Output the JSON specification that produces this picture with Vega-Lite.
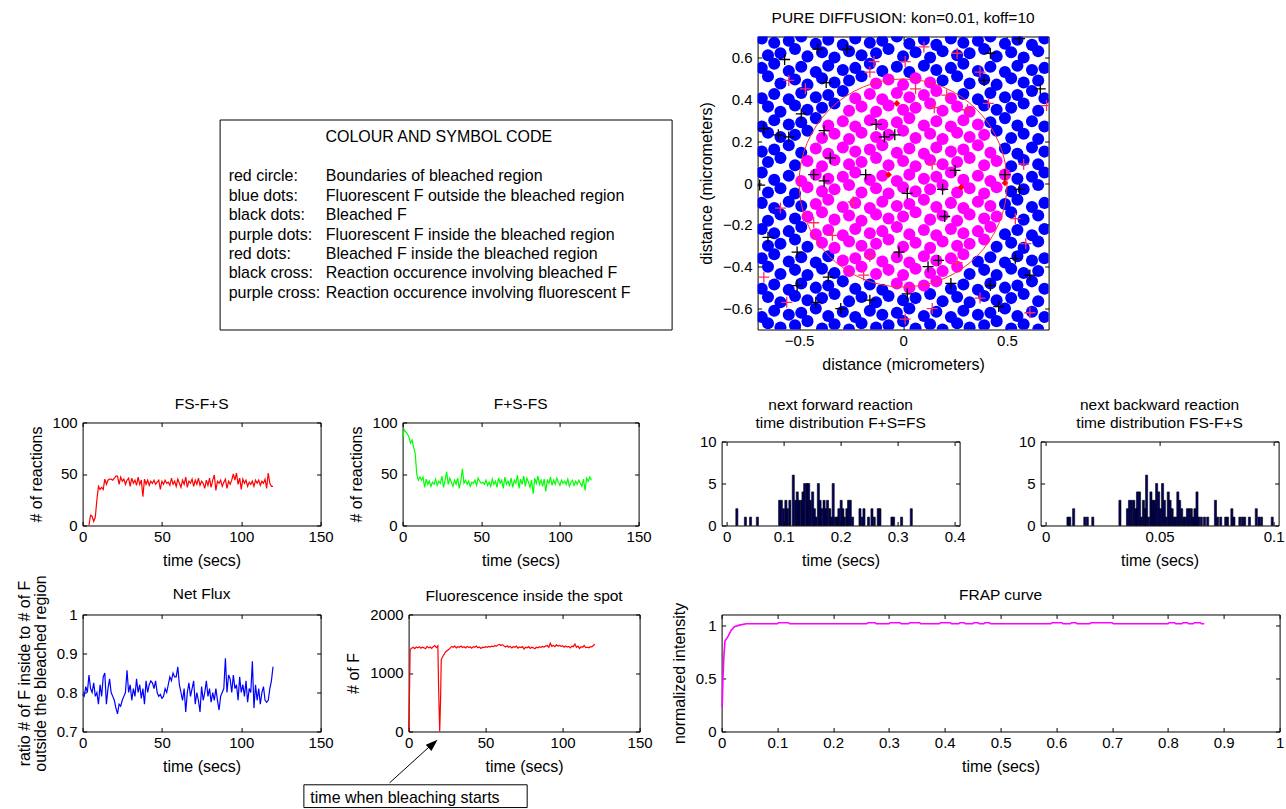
{
"$schema": "https://vega.github.io/schema/vega-lite/v6.json",
"background": "white",
"padding": {"left": 15.6, "top": 9.5, "right": 0, "bottom": 0},
"config": {
  "font": "Liberation Sans",
  "view": {"stroke": "black", "strokeWidth": 1},
  "axis": {"domain": false, "grid": false, "tickColor": "black", "tickSize": -4, "tickWidth": 1, "labelColor": "black", "labelFont": "Liberation Sans", "labelFontSize": 15, "labelFlush": false, "labelOverlap": false, "titleFont": "Liberation Sans", "titleFontSize": 16, "titleFontWeight": "normal", "titleColor": "black", "titlePadding": 8, "format": "~f"},
  "axisX": {"labelPadding": 8.2},
  "axisY": {"labelPadding": 9.5, "titleLineHeight": 16},
  "title": {"font": "Liberation Sans", "fontSize": 15.5, "fontWeight": "normal", "color": "black", "frame": "group", "anchor": "middle", "baseline": "bottom", "offset": 10, "lineHeight": 18}
},
"datasets": {
  "outside": [
    {"x":-0.68,"y":0.69},{"x":-0.62,"y":0.67},{"x":-0.55,"y":0.68},{"x":-0.49,"y":0.7},{"x":-0.42,"y":0.665},{"x":-0.36,"y":0.685},{"x":-0.29,"y":0.66},{"x":-0.23,"y":0.69},{"x":-0.16,"y":0.67},{"x":-0.1,"y":0.68},{"x":-0.03,"y":0.7},{"x":0.03,"y":0.665},{"x":0.1,"y":0.685},{"x":0.16,"y":0.66},{"x":0.23,"y":0.69},{"x":0.29,"y":0.67},{"x":0.36,"y":0.68},{"x":0.42,"y":0.7},{"x":0.49,"y":0.665},{"x":0.55,"y":0.685},{"x":0.62,"y":0.66},{"x":0.68,"y":0.69},
    {"x":-0.65,"y":0.61},{"x":-0.59,"y":0.62},{"x":-0.52,"y":0.64},{"x":-0.46,"y":0.605},{"x":-0.39,"y":0.625},{"x":-0.33,"y":0.6},{"x":-0.26,"y":0.63},{"x":-0.2,"y":0.61},{"x":-0.13,"y":0.62},{"x":-0.07,"y":0.64},{"x":0,"y":0.605},{"x":0.06,"y":0.625},{"x":0.13,"y":0.6},{"x":0.19,"y":0.63},{"x":0.26,"y":0.61},{"x":0.32,"y":0.62},{"x":0.39,"y":0.64},{"x":0.45,"y":0.605},{"x":0.52,"y":0.625},{"x":0.58,"y":0.6},{"x":0.65,"y":0.63},
    {"x":-0.68,"y":0.55},{"x":-0.62,"y":0.57},{"x":-0.55,"y":0.535},{"x":-0.49,"y":0.555},{"x":-0.42,"y":0.53},{"x":-0.36,"y":0.56},{"x":-0.29,"y":0.54},{"x":-0.23,"y":0.55},{"x":-0.16,"y":0.57},{"x":-0.1,"y":0.535},{"x":-0.03,"y":0.555},{"x":0.03,"y":0.53},{"x":0.1,"y":0.56},{"x":0.16,"y":0.54},{"x":0.23,"y":0.55},{"x":0.29,"y":0.57},{"x":0.36,"y":0.535},{"x":0.42,"y":0.555},{"x":0.49,"y":0.53},{"x":0.55,"y":0.56},{"x":0.62,"y":0.54},{"x":0.68,"y":0.55},
    {"x":-0.65,"y":0.51},{"x":-0.59,"y":0.475},{"x":-0.52,"y":0.495},{"x":-0.46,"y":0.47},{"x":-0.39,"y":0.5},{"x":-0.33,"y":0.48},{"x":-0.26,"y":0.49},{"x":-0.2,"y":0.51},{"x":0.19,"y":0.49},{"x":0.26,"y":0.51},{"x":0.32,"y":0.475},{"x":0.39,"y":0.495},{"x":0.45,"y":0.47},{"x":0.52,"y":0.5},{"x":0.58,"y":0.48},{"x":0.65,"y":0.49},
    {"x":-0.68,"y":0.405},{"x":-0.62,"y":0.425},{"x":-0.55,"y":0.4},{"x":-0.49,"y":0.43},{"x":-0.42,"y":0.41},{"x":-0.36,"y":0.42},{"x":-0.29,"y":0.44},{"x":0.29,"y":0.425},{"x":0.36,"y":0.4},{"x":0.42,"y":0.43},{"x":0.49,"y":0.41},{"x":0.55,"y":0.42},{"x":0.62,"y":0.44},{"x":0.68,"y":0.405},
    {"x":-0.65,"y":0.365},{"x":-0.59,"y":0.34},{"x":-0.52,"y":0.37},{"x":-0.46,"y":0.35},{"x":-0.39,"y":0.36},{"x":-0.33,"y":0.38},{"x":0.39,"y":0.37},{"x":0.45,"y":0.35},{"x":0.52,"y":0.36},{"x":0.58,"y":0.38},{"x":0.65,"y":0.345},
    {"x":-0.68,"y":0.27},{"x":-0.62,"y":0.3},{"x":-0.55,"y":0.28},{"x":-0.49,"y":0.29},{"x":-0.42,"y":0.31},{"x":0.42,"y":0.29},{"x":0.49,"y":0.31},{"x":0.55,"y":0.275},{"x":0.62,"y":0.295},{"x":0.68,"y":0.27},
    {"x":-0.65,"y":0.24},{"x":-0.59,"y":0.22},{"x":-0.52,"y":0.23},{"x":-0.46,"y":0.25},{"x":0.45,"y":0.25},{"x":0.52,"y":0.215},{"x":0.58,"y":0.235},{"x":0.65,"y":0.21},
    {"x":-0.68,"y":0.15},{"x":-0.62,"y":0.16},{"x":-0.55,"y":0.18},{"x":-0.49,"y":0.145},{"x":0.49,"y":0.165},{"x":0.55,"y":0.14},{"x":0.62,"y":0.17},{"x":0.68,"y":0.15},
    {"x":-0.65,"y":0.1},{"x":-0.59,"y":0.12},{"x":-0.52,"y":0.085},{"x":0.52,"y":0.08},{"x":0.58,"y":0.11},{"x":0.65,"y":0.09},
    {"x":-0.68,"y":0.05},{"x":-0.62,"y":0.015},{"x":-0.55,"y":0.035},{"x":0.55,"y":0.02},{"x":0.62,"y":0.03},{"x":0.68,"y":0.05},
    {"x":-0.65,"y":-0.045},{"x":-0.59,"y":-0.025},{"x":-0.52,"y":-0.05},{"x":0.52,"y":-0.04},{"x":0.58,"y":-0.03},{"x":0.65,"y":-0.01},
    {"x":-0.68,"y":-0.095},{"x":-0.62,"y":-0.12},{"x":-0.55,"y":-0.09},{"x":-0.49,"y":-0.11},{"x":0.49,"y":-0.1},{"x":0.55,"y":-0.08},{"x":0.62,"y":-0.115},{"x":0.68,"y":-0.095},
    {"x":-0.65,"y":-0.18},{"x":-0.59,"y":-0.15},{"x":-0.52,"y":-0.17},{"x":0.52,"y":-0.14},{"x":0.58,"y":-0.175},{"x":0.65,"y":-0.155},
    {"x":-0.68,"y":-0.22},{"x":-0.62,"y":-0.24},{"x":-0.55,"y":-0.23},{"x":-0.49,"y":-0.21},{"x":0.49,"y":-0.245},{"x":0.55,"y":-0.225},{"x":0.62,"y":-0.25},{"x":0.68,"y":-0.22},
    {"x":-0.65,"y":-0.3},{"x":-0.59,"y":-0.29},{"x":-0.52,"y":-0.27},{"x":-0.46,"y":-0.305},{"x":0.45,"y":-0.305},{"x":0.52,"y":-0.285},{"x":0.58,"y":-0.31},{"x":0.65,"y":-0.28},
    {"x":-0.68,"y":-0.36},{"x":-0.62,"y":-0.34},{"x":-0.55,"y":-0.375},{"x":-0.49,"y":-0.355},{"x":-0.42,"y":-0.38},{"x":-0.36,"y":-0.35},{"x":0.36,"y":-0.375},{"x":0.42,"y":-0.355},{"x":0.49,"y":-0.38},{"x":0.55,"y":-0.35},{"x":0.62,"y":-0.37},{"x":0.68,"y":-0.36},
    {"x":-0.65,"y":-0.4},{"x":-0.59,"y":-0.435},{"x":-0.52,"y":-0.415},{"x":-0.46,"y":-0.44},{"x":-0.39,"y":-0.41},{"x":-0.33,"y":-0.43},{"x":0.32,"y":-0.435},{"x":0.39,"y":-0.415},{"x":0.45,"y":-0.44},{"x":0.52,"y":-0.41},{"x":0.58,"y":-0.43},{"x":0.65,"y":-0.42},
    {"x":-0.68,"y":-0.505},{"x":-0.62,"y":-0.485},{"x":-0.55,"y":-0.51},{"x":-0.49,"y":-0.48},{"x":-0.42,"y":-0.5},{"x":-0.36,"y":-0.49},{"x":-0.29,"y":-0.47},{"x":-0.23,"y":-0.505},{"x":-0.16,"y":-0.485},{"x":-0.1,"y":-0.51},{"x":0.23,"y":-0.505},{"x":0.29,"y":-0.485},{"x":0.36,"y":-0.51},{"x":0.42,"y":-0.48},{"x":0.49,"y":-0.5},{"x":0.55,"y":-0.49},{"x":0.62,"y":-0.47},{"x":0.68,"y":-0.505},
    {"x":-0.65,"y":-0.545},{"x":-0.59,"y":-0.57},{"x":-0.52,"y":-0.54},{"x":-0.46,"y":-0.56},{"x":-0.39,"y":-0.55},{"x":-0.33,"y":-0.53},{"x":-0.26,"y":-0.565},{"x":-0.2,"y":-0.545},{"x":-0.13,"y":-0.57},{"x":-0.07,"y":-0.54},{"x":0,"y":-0.56},{"x":0.06,"y":-0.55},{"x":0.13,"y":-0.53},{"x":0.19,"y":-0.565},{"x":0.26,"y":-0.545},{"x":0.32,"y":-0.57},{"x":0.39,"y":-0.54},{"x":0.45,"y":-0.56},{"x":0.52,"y":-0.55},{"x":0.58,"y":-0.53},{"x":0.65,"y":-0.565},
    {"x":-0.68,"y":-0.64},{"x":-0.62,"y":-0.61},{"x":-0.55,"y":-0.63},{"x":-0.49,"y":-0.62},{"x":-0.42,"y":-0.6},{"x":-0.36,"y":-0.635},{"x":-0.29,"y":-0.615},{"x":-0.23,"y":-0.64},{"x":-0.16,"y":-0.61},{"x":-0.1,"y":-0.63},{"x":-0.03,"y":-0.62},{"x":0.03,"y":-0.6},{"x":0.1,"y":-0.635},{"x":0.16,"y":-0.615},{"x":0.23,"y":-0.64},{"x":0.29,"y":-0.61},{"x":0.36,"y":-0.63},{"x":0.42,"y":-0.62},{"x":0.49,"y":-0.6},{"x":0.55,"y":-0.635},{"x":0.62,"y":-0.615},{"x":0.68,"y":-0.64},
    {"x":-0.65,"y":-0.67},{"x":-0.59,"y":-0.69},{"x":-0.52,"y":-0.68},{"x":-0.46,"y":-0.66},{"x":-0.39,"y":-0.695},{"x":-0.33,"y":-0.675},{"x":-0.26,"y":-0.7},{"x":-0.2,"y":-0.67},{"x":-0.13,"y":-0.69},{"x":-0.07,"y":-0.68},{"x":0,"y":-0.66},{"x":0.06,"y":-0.695},{"x":0.13,"y":-0.675},{"x":0.19,"y":-0.7},{"x":0.26,"y":-0.67},{"x":0.32,"y":-0.69},{"x":0.39,"y":-0.68},{"x":0.45,"y":-0.66},{"x":0.52,"y":-0.695},{"x":0.58,"y":-0.675},{"x":0.65,"y":-0.7}
  ],
  "inside": [
    {"x":-0.13,"y":0.475},{"x":-0.07,"y":0.495},{"x":0,"y":0.47},{"x":0.06,"y":0.5},{"x":0.13,"y":0.48},
    {"x":-0.23,"y":0.405},{"x":-0.16,"y":0.425},{"x":-0.1,"y":0.4},{"x":-0.03,"y":0.43},{"x":0.03,"y":0.41},{"x":0.1,"y":0.42},{"x":0.16,"y":0.44},{"x":0.23,"y":0.405},
    {"x":-0.26,"y":0.345},{"x":-0.2,"y":0.365},{"x":-0.13,"y":0.34},{"x":-0.07,"y":0.37},{"x":0,"y":0.35},{"x":0.06,"y":0.36},{"x":0.13,"y":0.38},{"x":0.19,"y":0.345},{"x":0.26,"y":0.365},{"x":0.32,"y":0.34},
    {"x":-0.36,"y":0.275},{"x":-0.29,"y":0.295},{"x":-0.23,"y":0.27},{"x":-0.16,"y":0.3},{"x":-0.1,"y":0.28},{"x":-0.03,"y":0.29},{"x":0.03,"y":0.31},{"x":0.1,"y":0.275},{"x":0.16,"y":0.295},{"x":0.23,"y":0.27},{"x":0.29,"y":0.3},{"x":0.36,"y":0.28},
    {"x":-0.39,"y":0.215},{"x":-0.33,"y":0.235},{"x":-0.26,"y":0.21},{"x":-0.2,"y":0.24},{"x":-0.13,"y":0.22},{"x":-0.07,"y":0.23},{"x":0,"y":0.25},{"x":0.06,"y":0.215},{"x":0.13,"y":0.235},{"x":0.19,"y":0.21},{"x":0.26,"y":0.24},{"x":0.32,"y":0.22},{"x":0.39,"y":0.23},
    {"x":-0.42,"y":0.165},{"x":-0.36,"y":0.14},{"x":-0.29,"y":0.17},{"x":-0.23,"y":0.15},{"x":-0.16,"y":0.16},{"x":-0.1,"y":0.18},{"x":-0.03,"y":0.145},{"x":0.03,"y":0.165},{"x":0.1,"y":0.14},{"x":0.16,"y":0.17},{"x":0.23,"y":0.15},{"x":0.29,"y":0.16},{"x":0.36,"y":0.18},{"x":0.42,"y":0.145},
    {"x":-0.46,"y":0.105},{"x":-0.39,"y":0.08},{"x":-0.33,"y":0.11},{"x":-0.26,"y":0.09},{"x":-0.2,"y":0.1},{"x":-0.13,"y":0.12},{"x":-0.07,"y":0.085},{"x":0,"y":0.105},{"x":0.06,"y":0.08},{"x":0.13,"y":0.11},{"x":0.19,"y":0.09},{"x":0.26,"y":0.1},{"x":0.32,"y":0.12},{"x":0.39,"y":0.085},{"x":0.45,"y":0.105},
    {"x":-0.49,"y":0.01},{"x":-0.42,"y":0.04},{"x":-0.36,"y":0.02},{"x":-0.29,"y":0.03},{"x":-0.23,"y":0.05},{"x":-0.16,"y":0.015},{"x":-0.1,"y":0.035},{"x":-0.03,"y":0.01},{"x":0.03,"y":0.04},{"x":0.1,"y":0.02},{"x":0.16,"y":0.03},{"x":0.23,"y":0.05},{"x":0.29,"y":0.015},{"x":0.36,"y":0.035},{"x":0.42,"y":0.01},{"x":0.49,"y":0.04},
    {"x":-0.46,"y":-0.02},{"x":-0.39,"y":-0.04},{"x":-0.33,"y":-0.03},{"x":-0.26,"y":-0.01},{"x":-0.2,"y":-0.045},{"x":-0.13,"y":-0.025},{"x":-0.07,"y":-0.05},{"x":0,"y":-0.02},{"x":0.06,"y":-0.04},{"x":0.13,"y":-0.03},{"x":0.19,"y":-0.01},{"x":0.26,"y":-0.045},{"x":0.32,"y":-0.025},{"x":0.39,"y":-0.05},{"x":0.45,"y":-0.02},
    {"x":-0.42,"y":-0.1},{"x":-0.36,"y":-0.08},{"x":-0.29,"y":-0.115},{"x":-0.23,"y":-0.095},{"x":-0.16,"y":-0.12},{"x":-0.1,"y":-0.09},{"x":-0.03,"y":-0.11},{"x":0.03,"y":-0.1},{"x":0.1,"y":-0.08},{"x":0.16,"y":-0.115},{"x":0.23,"y":-0.095},{"x":0.29,"y":-0.12},{"x":0.36,"y":-0.09},{"x":0.42,"y":-0.11},
    {"x":-0.46,"y":-0.16},{"x":-0.39,"y":-0.14},{"x":-0.33,"y":-0.175},{"x":-0.26,"y":-0.155},{"x":-0.2,"y":-0.18},{"x":-0.13,"y":-0.15},{"x":-0.07,"y":-0.17},{"x":0,"y":-0.16},{"x":0.06,"y":-0.14},{"x":0.13,"y":-0.175},{"x":0.19,"y":-0.155},{"x":0.26,"y":-0.18},{"x":0.32,"y":-0.15},{"x":0.39,"y":-0.17},{"x":0.45,"y":-0.16},
    {"x":-0.42,"y":-0.245},{"x":-0.36,"y":-0.225},{"x":-0.29,"y":-0.25},{"x":-0.23,"y":-0.22},{"x":-0.16,"y":-0.24},{"x":-0.1,"y":-0.23},{"x":-0.03,"y":-0.21},{"x":0.03,"y":-0.245},{"x":0.1,"y":-0.225},{"x":0.16,"y":-0.25},{"x":0.23,"y":-0.22},{"x":0.29,"y":-0.24},{"x":0.36,"y":-0.23},{"x":0.42,"y":-0.21},
    {"x":-0.39,"y":-0.285},{"x":-0.33,"y":-0.31},{"x":-0.26,"y":-0.28},{"x":-0.2,"y":-0.3},{"x":-0.13,"y":-0.29},{"x":-0.07,"y":-0.27},{"x":0,"y":-0.305},{"x":0.06,"y":-0.285},{"x":0.13,"y":-0.31},{"x":0.19,"y":-0.28},{"x":0.26,"y":-0.3},{"x":0.32,"y":-0.29},{"x":0.39,"y":-0.27},
    {"x":-0.29,"y":-0.37},{"x":-0.23,"y":-0.36},{"x":-0.16,"y":-0.34},{"x":-0.1,"y":-0.375},{"x":-0.03,"y":-0.355},{"x":0.03,"y":-0.38},{"x":0.1,"y":-0.35},{"x":0.16,"y":-0.37},{"x":0.23,"y":-0.36},{"x":0.29,"y":-0.34},
    {"x":-0.26,"y":-0.42},{"x":-0.2,"y":-0.4},{"x":-0.13,"y":-0.435},{"x":-0.07,"y":-0.415},{"x":0,"y":-0.44},{"x":0.06,"y":-0.41},{"x":0.13,"y":-0.43},{"x":0.19,"y":-0.42},{"x":0.26,"y":-0.4},
    {"x":-0.03,"y":-0.48},{"x":0.03,"y":-0.5},{"x":0.1,"y":-0.49},{"x":0.16,"y":-0.47}
  ],
  "bleachedInside": [{"x":-0.03,"y":0.38},{"x":-0.07,"y":0.04},{"x":0.28,"y":-0.02},{"x":0.49,"y":0}],
  "crossBleached": [
    {"x":0.56,"y":0.69},{"x":-0.41,"y":0.64},{"x":-0.27,"y":0.64},{"x":-0.57,"y":0.59},{"x":0.42,"y":0.62},{"x":-0.37,"y":0.48},{"x":0.39,"y":0.49},{"x":0.66,"y":0.45},{"x":-0.49,"y":0.33},{"x":-0.67,"y":0.26},{"x":-0.6,"y":0.23},{"x":-0.55,"y":0.22},{"x":-0.38,"y":0.25},{"x":-0.13,"y":0.28},{"x":-0.09,"y":0.22},{"x":-0.04,"y":0.23},{"x":-0.35,"y":0.12},{"x":-0.43,"y":0.04},{"x":-0.38,"y":0.01},{"x":-0.18,"y":0.04},{"x":0.25,"y":0.06},{"x":0.49,"y":0.04},{"x":0.02,"y":-0.05},{"x":0.19,"y":-0.03},{"x":0.56,"y":-0.03},{"x":-0.69,"y":-0.01},{"x":0.2,"y":-0.16},{"x":-0.65,"y":-0.26},{"x":-0.51,"y":-0.33},{"x":-0.02,"y":-0.33},{"x":0.17,"y":-0.37},{"x":0.12,"y":-0.4},{"x":0.54,"y":-0.36},{"x":-0.36,"y":-0.45},{"x":0.61,"y":-0.44},{"x":0.23,"y":-0.48},{"x":0.42,"y":-0.49},{"x":-0.51,"y":-0.49},{"x":0.02,"y":-0.53},{"x":-0.16,"y":-0.56},{"x":-0.42,"y":-0.57},{"x":-0.3,"y":-0.6},{"x":0.46,"y":-0.59}
  ],
  "crossFluor": [
    {"x":0.1,"y":0.65},{"x":0.26,"y":0.62},{"x":-0.14,"y":0.58},{"x":0.01,"y":0.58},{"x":-0.16,"y":0.53},{"x":0.37,"y":0.53},{"x":-0.55,"y":0.49},{"x":-0.47,"y":0.45},{"x":0.06,"y":0.45},{"x":0.21,"y":0.42},{"x":0.41,"y":0.38},{"x":0.15,"y":0.36},{"x":0.31,"y":0.35},{"x":0.69,"y":0.37},{"x":0.14,"y":0.09},{"x":0.58,"y":0.09},{"x":-0.24,"y":-0.09},{"x":-0.59,"y":-0.12},{"x":0.54,"y":-0.17},{"x":-0.43,"y":-0.19},{"x":-0.34,"y":-0.25},{"x":0.59,"y":-0.29},{"x":-0.16,"y":-0.35},{"x":0.26,"y":-0.38},{"x":-0.19,"y":-0.44},{"x":-0.67,"y":-0.45},{"x":-0.56,"y":-0.57},{"x":0.37,"y":-0.55},{"x":0.01,"y":-0.65},{"x":0.14,"y":-0.6},{"x":0.61,"y":-0.62}
  ],
  "legendRows": [
    {"row":1,"symbol":"red circle:","meaning":"Boundaries of bleached region"},
    {"row":2,"symbol":"blue dots:","meaning":"Fluorescent F outside the bleached region"},
    {"row":3,"symbol":"black dots:","meaning":"Bleached F"},
    {"row":4,"symbol":"purple dots:","meaning":"Fluorescent F inside the bleached region"},
    {"row":5,"symbol":"red dots:","meaning":"Bleached F inside the bleached region"},
    {"row":6,"symbol":"black cross:","meaning":"Reaction occurence involving bleached F"},
    {"row":7,"symbol":"purple cross:","meaning":"Reaction occurence involving fluorescent F"}
  ],
  "backward": [
    {"t":4,"n":0},{"t":5,"n":10},{"t":6,"n":9},{"t":7,"n":4},{"t":8,"n":8},{"t":9,"n":25},{"t":10,"n":38},{"t":11,"n":35},{"t":12,"n":37},{"t":13,"n":35},{"t":14,"n":45},{"t":15,"n":40},{"t":16,"n":44},{"t":17,"n":45},{"t":18,"n":45},{"t":19,"n":44},{"t":20,"n":46},{"t":21,"n":48},{"t":22,"n":48},{"t":23,"n":40},{"t":24,"n":47},{"t":25,"n":43},{"t":26,"n":45},{"t":27,"n":40},{"t":28,"n":44},{"t":29,"n":46},{"t":30,"n":38},{"t":31,"n":46},{"t":32,"n":41},{"t":33,"n":44},{"t":34,"n":39},{"t":35,"n":47},{"t":36,"n":40},{"t":37,"n":44},{"t":38,"n":28},{"t":39,"n":45},{"t":40,"n":40},{"t":41,"n":44},{"t":42,"n":39},{"t":43,"n":43},{"t":44,"n":41},{"t":45,"n":44},{"t":46,"n":40},{"t":47,"n":42},{"t":48,"n":44},{"t":49,"n":35},{"t":50,"n":43},{"t":51,"n":40},{"t":52,"n":44},{"t":53,"n":41},{"t":54,"n":42},{"t":55,"n":39},{"t":56,"n":46},{"t":57,"n":40},{"t":58,"n":43},{"t":59,"n":38},{"t":60,"n":45},{"t":61,"n":41},{"t":62,"n":37},{"t":63,"n":44},{"t":64,"n":40},{"t":65,"n":47},{"t":66,"n":37},{"t":67,"n":43},{"t":68,"n":41},{"t":69,"n":45},{"t":70,"n":38},{"t":71,"n":44},{"t":72,"n":40},{"t":73,"n":46},{"t":74,"n":39},{"t":75,"n":43},{"t":76,"n":41},{"t":77,"n":36},{"t":78,"n":44},{"t":79,"n":39},{"t":80,"n":46},{"t":81,"n":37},{"t":82,"n":44},{"t":83,"n":49},{"t":84,"n":34},{"t":85,"n":43},{"t":86,"n":41},{"t":87,"n":44},{"t":88,"n":38},{"t":89,"n":42},{"t":90,"n":45},{"t":91,"n":36},{"t":92,"n":43},{"t":93,"n":40},{"t":94,"n":44},{"t":95,"n":50},{"t":96,"n":44},{"t":97,"n":51},{"t":98,"n":40},{"t":99,"n":46},{"t":100,"n":35},{"t":101,"n":45},{"t":102,"n":41},{"t":103,"n":44},{"t":104,"n":38},{"t":105,"n":42},{"t":106,"n":40},{"t":107,"n":43},{"t":108,"n":38},{"t":109,"n":44},{"t":110,"n":41},{"t":111,"n":44},{"t":112,"n":39},{"t":113,"n":43},{"t":114,"n":41},{"t":115,"n":45},{"t":116,"n":36},{"t":117,"n":51},{"t":118,"n":41},{"t":119,"n":38},{"t":120,"n":38}
  ],
  "forward": [
    {"t":0,"n":85},{"t":1,"n":93},{"t":2,"n":91},{"t":3,"n":89},{"t":4,"n":86},{"t":5,"n":80},{"t":6,"n":83},{"t":7,"n":76},{"t":8,"n":70},{"t":9,"n":50},{"t":10,"n":44},{"t":11,"n":47},{"t":12,"n":44},{"t":13,"n":47},{"t":14,"n":37},{"t":15,"n":45},{"t":16,"n":40},{"t":17,"n":43},{"t":18,"n":38},{"t":19,"n":42},{"t":20,"n":40},{"t":21,"n":45},{"t":22,"n":39},{"t":23,"n":43},{"t":24,"n":41},{"t":25,"n":48},{"t":26,"n":37},{"t":27,"n":44},{"t":28,"n":52},{"t":29,"n":40},{"t":30,"n":46},{"t":31,"n":42},{"t":32,"n":38},{"t":33,"n":44},{"t":34,"n":40},{"t":35,"n":46},{"t":36,"n":36},{"t":37,"n":43},{"t":38,"n":55},{"t":39,"n":41},{"t":40,"n":44},{"t":41,"n":40},{"t":42,"n":43},{"t":43,"n":38},{"t":44,"n":42},{"t":45,"n":41},{"t":46,"n":44},{"t":47,"n":39},{"t":48,"n":46},{"t":49,"n":43},{"t":50,"n":41},{"t":51,"n":42},{"t":52,"n":40},{"t":53,"n":44},{"t":54,"n":39},{"t":55,"n":42},{"t":56,"n":38},{"t":57,"n":45},{"t":58,"n":40},{"t":59,"n":43},{"t":60,"n":37},{"t":61,"n":46},{"t":62,"n":41},{"t":63,"n":44},{"t":64,"n":36},{"t":65,"n":47},{"t":66,"n":40},{"t":67,"n":43},{"t":68,"n":39},{"t":69,"n":46},{"t":70,"n":37},{"t":71,"n":44},{"t":72,"n":41},{"t":73,"n":49},{"t":74,"n":36},{"t":75,"n":45},{"t":76,"n":40},{"t":77,"n":48},{"t":78,"n":38},{"t":79,"n":46},{"t":80,"n":42},{"t":81,"n":37},{"t":82,"n":44},{"t":83,"n":31},{"t":84,"n":46},{"t":85,"n":41},{"t":86,"n":48},{"t":87,"n":40},{"t":88,"n":44},{"t":89,"n":38},{"t":90,"n":45},{"t":91,"n":33},{"t":92,"n":44},{"t":93,"n":41},{"t":94,"n":47},{"t":95,"n":39},{"t":96,"n":44},{"t":97,"n":40},{"t":98,"n":46},{"t":99,"n":42},{"t":100,"n":39},{"t":101,"n":44},{"t":102,"n":41},{"t":103,"n":43},{"t":104,"n":40},{"t":105,"n":45},{"t":106,"n":38},{"t":107,"n":42},{"t":108,"n":44},{"t":109,"n":39},{"t":110,"n":43},{"t":111,"n":40},{"t":112,"n":44},{"t":113,"n":41},{"t":114,"n":38},{"t":115,"n":45},{"t":116,"n":34},{"t":117,"n":46},{"t":118,"n":43},{"t":119,"n":47},{"t":120,"n":44}
  ],
  "netflux": [
    {"t":0,"n":0.795},{"t":1,"n":0.79},{"t":2,"n":0.815},{"t":3,"n":0.8},{"t":4,"n":0.845},{"t":5,"n":0.81},{"t":6,"n":0.8},{"t":7,"n":0.825},{"t":8,"n":0.79},{"t":9,"n":0.8},{"t":10,"n":0.77},{"t":11,"n":0.82},{"t":12,"n":0.79},{"t":13,"n":0.84},{"t":14,"n":0.85},{"t":15,"n":0.77},{"t":16,"n":0.81},{"t":17,"n":0.835},{"t":18,"n":0.8},{"t":19,"n":0.79},{"t":20,"n":0.78},{"t":21,"n":0.76},{"t":22,"n":0.745},{"t":23,"n":0.77},{"t":24,"n":0.765},{"t":25,"n":0.78},{"t":26,"n":0.79},{"t":27,"n":0.8},{"t":28,"n":0.857},{"t":29,"n":0.8},{"t":30,"n":0.82},{"t":31,"n":0.78},{"t":32,"n":0.81},{"t":33,"n":0.79},{"t":34,"n":0.835},{"t":35,"n":0.8},{"t":36,"n":0.82},{"t":37,"n":0.785},{"t":38,"n":0.81},{"t":39,"n":0.77},{"t":40,"n":0.83},{"t":41,"n":0.8},{"t":42,"n":0.82},{"t":43,"n":0.83},{"t":44,"n":0.825},{"t":45,"n":0.81},{"t":46,"n":0.83},{"t":47,"n":0.8},{"t":48,"n":0.79},{"t":49,"n":0.795},{"t":50,"n":0.785},{"t":51,"n":0.79},{"t":52,"n":0.81},{"t":53,"n":0.8},{"t":54,"n":0.82},{"t":55,"n":0.84},{"t":56,"n":0.83},{"t":57,"n":0.85},{"t":58,"n":0.84},{"t":59,"n":0.84},{"t":60,"n":0.866},{"t":61,"n":0.82},{"t":62,"n":0.8},{"t":63,"n":0.78},{"t":64,"n":0.81},{"t":65,"n":0.75},{"t":66,"n":0.8},{"t":67,"n":0.825},{"t":68,"n":0.79},{"t":69,"n":0.81},{"t":70,"n":0.83},{"t":71,"n":0.77},{"t":72,"n":0.8},{"t":73,"n":0.78},{"t":74,"n":0.75},{"t":75,"n":0.815},{"t":76,"n":0.78},{"t":77,"n":0.8},{"t":78,"n":0.83},{"t":79,"n":0.79},{"t":80,"n":0.81},{"t":81,"n":0.775},{"t":82,"n":0.8},{"t":83,"n":0.78},{"t":84,"n":0.81},{"t":85,"n":0.78},{"t":86,"n":0.755},{"t":87,"n":0.79},{"t":88,"n":0.8},{"t":89,"n":0.81},{"t":90,"n":0.888},{"t":91,"n":0.8},{"t":92,"n":0.845},{"t":93,"n":0.835},{"t":94,"n":0.8},{"t":95,"n":0.845},{"t":96,"n":0.81},{"t":97,"n":0.82},{"t":98,"n":0.78},{"t":99,"n":0.84},{"t":100,"n":0.8},{"t":101,"n":0.82},{"t":102,"n":0.79},{"t":103,"n":0.83},{"t":104,"n":0.775},{"t":105,"n":0.81},{"t":106,"n":0.8},{"t":107,"n":0.88},{"t":108,"n":0.76},{"t":109,"n":0.82},{"t":110,"n":0.78},{"t":111,"n":0.81},{"t":112,"n":0.77},{"t":113,"n":0.8},{"t":114,"n":0.815},{"t":115,"n":0.78},{"t":116,"n":0.775},{"t":117,"n":0.78},{"t":118,"n":0.81},{"t":119,"n":0.83},{"t":120,"n":0.866}
  ],
  "spot": [
    {"t":0,"n":0},{"t":0.6,"n":700},{"t":1,"n":1400},{"t":2,"n":1425},{"t":3,"n":1440},{"t":4,"n":1415},{"t":5,"n":1445},{"t":6,"n":1430},{"t":7,"n":1450},{"t":8,"n":1425},{"t":9,"n":1440},{"t":10,"n":1430},{"t":11,"n":1415},{"t":12,"n":1455},{"t":13,"n":1430},{"t":14,"n":1445},{"t":15,"n":1420},{"t":16,"n":1450},{"t":17,"n":1470},{"t":18,"n":1435},{"t":19,"n":1465},{"t":19.5,"n":720},{"t":20.2,"n":0},{"t":20.8,"n":600},{"t":21.2,"n":1230},{"t":22.4,"n":1290},{"t":24,"n":1360},{"t":26,"n":1400},{"t":28,"n":1455},{"t":29,"n":1440},{"t":30,"n":1460},{"t":31,"n":1430},{"t":32,"n":1450},{"t":33,"n":1440},{"t":34,"n":1460},{"t":35,"n":1435},{"t":36,"n":1450},{"t":37,"n":1430},{"t":38,"n":1455},{"t":39,"n":1440},{"t":40,"n":1445},{"t":41,"n":1425},{"t":42,"n":1450},{"t":43,"n":1440},{"t":44,"n":1460},{"t":45,"n":1430},{"t":46,"n":1445},{"t":47,"n":1420},{"t":48,"n":1440},{"t":49,"n":1435},{"t":50,"n":1450},{"t":51,"n":1440},{"t":52,"n":1455},{"t":53,"n":1445},{"t":54,"n":1460},{"t":55,"n":1450},{"t":56,"n":1470},{"t":57,"n":1455},{"t":58,"n":1480},{"t":59,"n":1490},{"t":60,"n":1470},{"t":61,"n":1485},{"t":62,"n":1460},{"t":63,"n":1445},{"t":64,"n":1465},{"t":65,"n":1440},{"t":66,"n":1455},{"t":67,"n":1430},{"t":68,"n":1450},{"t":69,"n":1440},{"t":70,"n":1460},{"t":71,"n":1425},{"t":72,"n":1445},{"t":73,"n":1435},{"t":74,"n":1450},{"t":75,"n":1410},{"t":76,"n":1440},{"t":77,"n":1430},{"t":78,"n":1450},{"t":79,"n":1420},{"t":80,"n":1440},{"t":81,"n":1430},{"t":82,"n":1415},{"t":83,"n":1440},{"t":84,"n":1430},{"t":85,"n":1450},{"t":86,"n":1440},{"t":87,"n":1455},{"t":88,"n":1445},{"t":89,"n":1460},{"t":90,"n":1470},{"t":91,"n":1440},{"t":92,"n":1510},{"t":93,"n":1455},{"t":94,"n":1470},{"t":95,"n":1450},{"t":96,"n":1480},{"t":97,"n":1460},{"t":98,"n":1470},{"t":99,"n":1455},{"t":100,"n":1465},{"t":101,"n":1440},{"t":102,"n":1460},{"t":103,"n":1445},{"t":104,"n":1455},{"t":105,"n":1430},{"t":106,"n":1460},{"t":107,"n":1450},{"t":108,"n":1495},{"t":109,"n":1440},{"t":110,"n":1460},{"t":111,"n":1420},{"t":112,"n":1450},{"t":113,"n":1440},{"t":114,"n":1470},{"t":115,"n":1435},{"t":116,"n":1440},{"t":117,"n":1430},{"t":118,"n":1450},{"t":119,"n":1445},{"t":120,"n":1470},{"t":121,"n":1490}
  ],
  "frap": [
    {"t":0.001,"n":0.23},{"t":0.0024,"n":0.5},{"t":0.004,"n":0.7},{"t":0.006,"n":0.85},{"t":0.011,"n":0.89},{"t":0.017,"n":0.95},{"t":0.023,"n":0.985},{"t":0.032,"n":1.0},{"t":0.044,"n":1.013},{"t":0.1,"n":1.013},{"t":0.102,"n":1.023},{"t":0.12,"n":1.023},{"t":0.122,"n":1.013},{"t":0.26,"n":1.013},{"t":0.262,"n":1.023},{"t":0.275,"n":1.023},{"t":0.277,"n":1.013},{"t":0.3,"n":1.013},{"t":0.302,"n":1.023},{"t":0.32,"n":1.023},{"t":0.322,"n":1.013},{"t":0.335,"n":1.013},{"t":0.337,"n":1.023},{"t":0.355,"n":1.023},{"t":0.357,"n":1.013},{"t":0.39,"n":1.013},{"t":0.392,"n":1.023},{"t":0.41,"n":1.023},{"t":0.412,"n":1.013},{"t":0.425,"n":1.013},{"t":0.427,"n":1.023},{"t":0.435,"n":1.023},{"t":0.437,"n":1.013},{"t":0.45,"n":1.013},{"t":0.452,"n":1.023},{"t":0.46,"n":1.023},{"t":0.462,"n":1.013},{"t":0.47,"n":1.013},{"t":0.472,"n":1.023},{"t":0.48,"n":1.023},{"t":0.482,"n":1.013},{"t":0.59,"n":1.013},{"t":0.592,"n":1.023},{"t":0.61,"n":1.023},{"t":0.612,"n":1.013},{"t":0.625,"n":1.013},{"t":0.627,"n":1.023},{"t":0.635,"n":1.023},{"t":0.637,"n":1.013},{"t":0.66,"n":1.013},{"t":0.662,"n":1.023},{"t":0.7,"n":1.023},{"t":0.702,"n":1.013},{"t":0.8,"n":1.013},{"t":0.802,"n":1.023},{"t":0.812,"n":1.023},{"t":0.814,"n":1.013},{"t":0.825,"n":1.013},{"t":0.827,"n":1.023},{"t":0.835,"n":1.023},{"t":0.837,"n":1.013},{"t":0.845,"n":1.013},{"t":0.847,"n":1.023},{"t":0.858,"n":1.023},{"t":0.86,"n":1.013},{"t":0.865,"n":1.013}
  ],
  "histForward": [
    {"t":0.018,"n":2},{"t":0.033,"n":1},{"t":0.042,"n":1},{"t":0.054,"n":1},{"t":0.093,"n":3},{"t":0.096,"n":3},{"t":0.1,"n":2},{"t":0.104,"n":3},{"t":0.107,"n":2},{"t":0.111,"n":3},{"t":0.117,"n":6},{"t":0.121,"n":3},{"t":0.124,"n":4},{"t":0.127,"n":3},{"t":0.131,"n":3},{"t":0.134,"n":4},{"t":0.137,"n":5},{"t":0.141,"n":5},{"t":0.144,"n":5},{"t":0.147,"n":3},{"t":0.151,"n":4},{"t":0.154,"n":2},{"t":0.157,"n":1},{"t":0.161,"n":5},{"t":0.164,"n":3},{"t":0.167,"n":2},{"t":0.171,"n":3},{"t":0.174,"n":2},{"t":0.177,"n":3},{"t":0.181,"n":2},{"t":0.184,"n":1},{"t":0.187,"n":5},{"t":0.191,"n":1},{"t":0.194,"n":1},{"t":0.197,"n":2},{"t":0.201,"n":3},{"t":0.204,"n":2},{"t":0.207,"n":1},{"t":0.211,"n":2},{"t":0.214,"n":3},{"t":0.217,"n":3},{"t":0.221,"n":1},{"t":0.234,"n":2},{"t":0.238,"n":1},{"t":0.241,"n":2},{"t":0.249,"n":1},{"t":0.255,"n":2},{"t":0.259,"n":1},{"t":0.266,"n":2},{"t":0.269,"n":2},{"t":0.29,"n":1},{"t":0.293,"n":1},{"t":0.307,"n":1},{"t":0.324,"n":2}
  ],
  "histBackward": [
    {"t":0.0098,"n":1},{"t":0.0106,"n":1},{"t":0.0123,"n":2},{"t":0.0172,"n":1},{"t":0.0183,"n":1},{"t":0.0207,"n":1},{"t":0.0326,"n":3},{"t":0.0359,"n":2},{"t":0.0368,"n":3},{"t":0.0377,"n":3},{"t":0.0387,"n":3},{"t":0.0396,"n":2},{"t":0.0403,"n":4},{"t":0.0412,"n":4},{"t":0.042,"n":1},{"t":0.0429,"n":3},{"t":0.0437,"n":2},{"t":0.0443,"n":6},{"t":0.0452,"n":1},{"t":0.0462,"n":4},{"t":0.0471,"n":3},{"t":0.0479,"n":3},{"t":0.0487,"n":5},{"t":0.0496,"n":4},{"t":0.0504,"n":2},{"t":0.0513,"n":5},{"t":0.0521,"n":3},{"t":0.0529,"n":1},{"t":0.0538,"n":4},{"t":0.0546,"n":3},{"t":0.0555,"n":2},{"t":0.0564,"n":1},{"t":0.0571,"n":1},{"t":0.058,"n":4},{"t":0.0588,"n":3},{"t":0.0597,"n":2},{"t":0.0606,"n":1},{"t":0.0613,"n":1},{"t":0.0622,"n":2},{"t":0.063,"n":2},{"t":0.0639,"n":2},{"t":0.0647,"n":1},{"t":0.0655,"n":2},{"t":0.0664,"n":4},{"t":0.0672,"n":1},{"t":0.0683,"n":1},{"t":0.0697,"n":1},{"t":0.0711,"n":1},{"t":0.0745,"n":3},{"t":0.0754,"n":1},{"t":0.0768,"n":1},{"t":0.079,"n":1},{"t":0.0798,"n":1},{"t":0.0817,"n":2},{"t":0.0826,"n":1},{"t":0.0852,"n":1},{"t":0.0863,"n":1},{"t":0.0873,"n":1},{"t":0.0894,"n":1},{"t":0.0924,"n":2},{"t":0.0936,"n":1},{"t":0.0947,"n":1},{"t":0.0994,"n":1}
  ]
},
"bounds": "flush",
"spacing": 0,
"vconcat": [
  {"bounds": "flush", "spacing": 0, "hconcat": [
    {"width": 675, "height": 1, "view": {"stroke": null}, "data": {"values": []}, "mark": "point"},
    {"width": 291, "height": 293, "title": "PURE DIFFUSION: kon=0.01, koff=10", "view": {"stroke": "black"},
     "resolve": {"axis": {"x": "independent", "y": "independent"}},
     "layer": [
      {"data": {"name": "outside"}, "mark": {"type": "point", "shape": "circle", "filled": true, "size": 145, "color": "#0000ff", "opacity": 1, "clip": true},
       "encoding": {
        "x": {"field": "x", "type": "quantitative", "scale": {"domain": [-0.7, 0.7], "nice": false, "zero": false}, "axis": {"values": [-0.5, 0, 0.5], "title": "distance (micrometers)"}},
        "y": {"field": "y", "type": "quantitative", "scale": {"domain": [-0.7, 0.7], "nice": false, "zero": false}, "axis": {"values": [-0.6, -0.4, -0.2, 0, 0.2, 0.4, 0.6], "title": "distance (micrometers)"}}}},
      {"data": {"name": "inside"}, "mark": {"type": "point", "shape": "circle", "filled": true, "size": 145, "color": "#ff00ff", "opacity": 1, "clip": true},
       "encoding": {"x": {"field": "x", "type": "quantitative", "axis": null}, "y": {"field": "y", "type": "quantitative", "axis": null}}},
      {"data": {"name": "bleachedInside"}, "mark": {"type": "point", "shape": "diamond", "filled": true, "size": 45, "color": "#ff0000", "opacity": 1, "clip": true},
       "encoding": {"x": {"field": "x", "type": "quantitative", "axis": null}, "y": {"field": "y", "type": "quantitative", "axis": null}}},
      {"data": {"values": [{}]}, "mark": {"type": "point", "shape": "circle", "filled": false, "size": 43264, "color": "#ff3030", "strokeWidth": 1, "opacity": 1},
       "encoding": {"x": {"datum": 0, "axis": null}, "y": {"datum": 0, "axis": null}}},
      {"data": {"name": "crossBleached"}, "mark": {"type": "point", "shape": "M-1,0H1M0,-1V1", "filled": false, "size": 121, "color": "black", "strokeWidth": 1.3, "opacity": 1, "clip": true},
       "encoding": {"x": {"field": "x", "type": "quantitative", "axis": null}, "y": {"field": "y", "type": "quantitative", "axis": null}}},
      {"data": {"name": "crossFluor"}, "mark": {"type": "point", "shape": "M-1,0H1M0,-1V1", "filled": false, "size": 121, "color": "#ff2a6a", "strokeWidth": 1.3, "opacity": 1, "clip": true},
       "encoding": {"x": {"field": "x", "type": "quantitative", "axis": {"orient": "top", "labels": false, "title": null, "values": [-0.5, 0, 0.5]}}, "y": {"field": "y", "type": "quantitative", "axis": {"orient": "right", "labels": false, "title": null, "values": [-0.6, -0.4, -0.2, 0, 0.2, 0.4, 0.6]}}}}
     ]}
  ]},
  {"width": 1, "height": 83, "view": {"stroke": null}, "data": {"values": []}, "mark": "point"},
  {"bounds": "flush", "spacing": 0, "hconcat": [
    {"width": 137, "height": 1, "view": {"stroke": null}, "data": {"values": []}, "mark": "point"},
    {"width": 452, "height": 210, "view": {"stroke": "black"},
     "layer": [
      {"data": {"values": [{"heading": "COLOUR AND SYMBOL CODE"}]}, "mark": {"type": "text", "align": "center", "baseline": "middle", "fontSize": 16, "color": "black"},
       "encoding": {
        "x": {"datum": 0.485, "type": "quantitative", "scale": {"domain": [0, 1], "nice": false, "zero": false}, "axis": null},
        "y": {"datum": -1, "type": "quantitative", "scale": {"domain": [-1.917, 8.886], "reverse": true, "nice": false, "zero": false}, "axis": null},
        "text": {"field": "heading"}}},
      {"data": {"name": "legendRows"}, "mark": {"type": "text", "align": "left", "baseline": "middle", "fontSize": 16, "color": "black"},
       "encoding": {
        "x": {"datum": 0.02, "type": "quantitative"},
        "y": {"field": "row", "type": "quantitative"},
        "text": {"field": "symbol"}}},
      {"data": {"name": "legendRows"}, "mark": {"type": "text", "align": "left", "baseline": "middle", "fontSize": 16, "color": "black"},
       "encoding": {
        "x": {"datum": 0.235, "type": "quantitative"},
        "y": {"field": "row", "type": "quantitative"},
        "text": {"field": "meaning"}}}
     ]}
  ]},
  {"width": 1, "height": 303, "view": {"stroke": null}, "data": {"values": []}, "mark": "point"},
  {"bounds": "flush", "spacing": 0, "hconcat": [
    {"width": 238, "height": 103, "title": {"text": "FS-F+S", "offset": 2.5}, "view": {"stroke": "black"}, "data": {"name": "backward"},
     "resolve": {"axis": {"x": "independent", "y": "independent"}},
     "layer": [
      {"mark": {"type": "line", "color": "#ff0000", "strokeWidth": 1.2},
       "encoding": {
        "x": {"field": "t", "type": "quantitative", "scale": {"domain": [0, 150], "nice": false, "zero": false}, "axis": {"values": [0, 50, 100, 150], "title": "time (secs)"}},
        "y": {"field": "n", "type": "quantitative", "scale": {"domain": [0, 100], "nice": false}, "axis": {"values": [0, 50, 100], "title": "# of reactions"}}}},
      {"mark": {"type": "point", "opacity": 0},
       "encoding": {
        "x": {"field": "t", "type": "quantitative", "axis": {"orient": "top", "labels": false, "title": null, "values": [0, 50, 100, 150]}},
        "y": {"field": "n", "type": "quantitative", "axis": {"orient": "right", "labels": false, "title": null, "values": [0, 50, 100]}}}}
     ]},
    {"width": 82, "height": 1, "view": {"stroke": null}, "data": {"values": []}, "mark": "point"},
    {"width": 236, "height": 103, "title": {"text": "F+S-FS", "offset": 2.5}, "view": {"stroke": "black"}, "data": {"name": "forward"},
     "resolve": {"axis": {"x": "independent", "y": "independent"}},
     "layer": [
      {"mark": {"type": "line", "color": "#00ff00", "strokeWidth": 1.2},
       "encoding": {
        "x": {"field": "t", "type": "quantitative", "scale": {"domain": [0, 150], "nice": false, "zero": false}, "axis": {"values": [0, 50, 100, 150], "title": "time (secs)"}},
        "y": {"field": "n", "type": "quantitative", "scale": {"domain": [0, 100], "nice": false}, "axis": {"values": [0, 50, 100], "title": "# of reactions"}}}},
      {"mark": {"type": "point", "opacity": 0},
       "encoding": {
        "x": {"field": "t", "type": "quantitative", "axis": {"orient": "top", "labels": false, "title": null, "values": [0, 50, 100, 150]}},
        "y": {"field": "n", "type": "quantitative", "axis": {"orient": "right", "labels": false, "title": null, "values": [0, 50, 100]}}}}
     ]}
  ]},
  {"width": 1, "height": 19, "view": {"stroke": null}, "data": {"values": []}, "mark": "point"},
  {"bounds": "flush", "spacing": 0, "hconcat": [
    {"width": 639, "height": 1, "view": {"stroke": null}, "data": {"values": []}, "mark": "point"},
    {"width": 238, "height": 84, "title": {"text": ["next forward reaction", "time distribution F+S=FS"], "offset": 3}, "view": {"stroke": "black"}, "data": {"name": "histForward"},
     "resolve": {"axis": {"x": "independent", "y": "independent"}},
     "layer": [
      {"mark": {"type": "bar", "orient": "vertical", "size": 2.1, "fill": "#000066", "stroke": "black", "strokeWidth": 0.6},
       "encoding": {
        "x": {"field": "t", "type": "quantitative", "scale": {"domain": [0, 0.4], "nice": false, "zero": false}, "axis": {"values": [0, 0.1, 0.2, 0.3, 0.4], "title": "time (secs)"}},
        "y": {"field": "n", "type": "quantitative", "scale": {"domain": [0, 10], "nice": false}, "axis": {"values": [0, 5, 10], "title": null}}}},
      {"mark": {"type": "point", "opacity": 0},
       "encoding": {
        "x": {"field": "t", "type": "quantitative", "axis": {"orient": "top", "labels": false, "title": null, "values": [0, 0.1, 0.2, 0.3, 0.4]}},
        "y": {"field": "n", "type": "quantitative", "axis": {"orient": "right", "labels": false, "title": null, "values": [0, 5, 10]}}}}
     ]},
    {"width": 81, "height": 1, "view": {"stroke": null}, "data": {"values": []}, "mark": "point"},
    {"width": 238, "height": 84, "title": {"text": ["next backward reaction", "time distribution FS-F+S"], "offset": 3}, "view": {"stroke": "black"}, "data": {"name": "histBackward"},
     "resolve": {"axis": {"x": "independent", "y": "independent"}},
     "layer": [
      {"mark": {"type": "bar", "orient": "vertical", "size": 2.1, "fill": "#000066", "stroke": "black", "strokeWidth": 0.6},
       "encoding": {
        "x": {"field": "t", "type": "quantitative", "scale": {"domain": [0, 0.1], "nice": false, "zero": false}, "axis": {"values": [0, 0.05, 0.1], "title": "time (secs)"}},
        "y": {"field": "n", "type": "quantitative", "scale": {"domain": [0, 10], "nice": false}, "axis": {"values": [0, 5, 10], "title": null}}}},
      {"mark": {"type": "point", "opacity": 0},
       "encoding": {
        "x": {"field": "t", "type": "quantitative", "axis": {"orient": "top", "labels": false, "title": null, "values": [0, 0.05, 0.1]}},
        "y": {"field": "n", "type": "quantitative", "axis": {"orient": "right", "labels": false, "title": null, "values": [0, 5, 10]}}}}
     ]}
  ]},
  {"width": 1, "height": 173, "view": {"stroke": null}, "data": {"values": []}, "mark": "point"},
  {"bounds": "flush", "spacing": 0, "hconcat": [
    {"width": 238, "height": 117, "title": {"text": "Net Flux", "offset": -28}, "view": {"stroke": "black"}, "data": {"name": "netflux"},
     "resolve": {"axis": {"x": "independent", "y": "independent"}},
     "layer": [
      {"mark": {"type": "line", "color": "#0000ff", "strokeWidth": 1.2},
       "encoding": {
        "x": {"field": "t", "type": "quantitative", "scale": {"domain": [0, 150], "nice": false, "zero": false}, "axis": {"values": [0, 50, 100, 150], "title": "time (secs)"}},
        "y": {"field": "n", "type": "quantitative", "scale": {"domain": [0.7, 1], "nice": false, "zero": false}, "axis": {"values": [0.7, 0.8, 0.9, 1], "title": ["ratio # of F inside to # of F", "outside the bleached region"]}}}},
      {"mark": {"type": "point", "opacity": 0},
       "encoding": {
        "x": {"field": "t", "type": "quantitative", "axis": {"orient": "top", "labels": false, "title": null, "values": [0, 50, 100, 150]}},
        "y": {"field": "n", "type": "quantitative", "axis": {"orient": "right", "labels": false, "title": null, "values": [0.7, 0.8, 0.9, 1]}}}}
     ]},
    {"width": 88, "height": 1, "view": {"stroke": null}, "data": {"values": []}, "mark": "point"},
    {"width": 231, "height": 117, "title": {"text": "Fluorescence inside the spot", "offset": 3}, "view": {"stroke": "black"},
     "resolve": {"axis": {"x": "independent", "y": "independent"}},
     "layer": [
      {"data": {"name": "spot"}, "mark": {"type": "line", "color": "#ff0000", "strokeWidth": 1.2},
       "encoding": {
        "x": {"field": "t", "type": "quantitative", "scale": {"domain": [0, 150], "nice": false, "zero": false}, "axis": {"values": [0, 50, 100, 150], "title": "time (secs)"}},
        "y": {"field": "n", "type": "quantitative", "scale": {"domain": [0, 2000], "nice": false}, "axis": {"values": [0, 1000, 2000], "title": "# of F"}}}},
      {"data": {"name": "spot"}, "mark": {"type": "point", "opacity": 0},
       "encoding": {
        "x": {"field": "t", "type": "quantitative", "axis": {"orient": "top", "labels": false, "title": null, "values": [0, 50, 100, 150]}},
        "y": {"field": "n", "type": "quantitative", "axis": {"orient": "right", "labels": false, "title": null, "values": [0, 1000, 2000]}}}},
      {"data": {"values": [{}]}, "mark": {"type": "rect", "fill": "white", "stroke": "black", "strokeWidth": 1},
       "encoding": {"x": {"datum": -68, "axis": null}, "x2": {"datum": 77}, "y": {"datum": -911, "axis": null}, "y2": {"datum": -1300}}},
      {"data": {"values": [{"note": "time when bleaching starts"}]}, "mark": {"type": "text", "align": "left", "baseline": "alphabetic", "fontSize": 16, "color": "black"},
       "encoding": {"x": {"datum": -63.8, "axis": null}, "y": {"datum": -1219, "axis": null}, "text": {"field": "note"}}},
      {"data": {"values": [{}]}, "mark": {"type": "rule", "color": "black", "strokeWidth": 1},
       "encoding": {"x": {"datum": -12.3, "axis": null}, "y": {"datum": -877, "axis": null}, "x2": {"datum": 16}, "y2": {"datum": -200}}},
      {"data": {"values": [{}]}, "mark": {"type": "point", "shape": "M0,0L-0.7,2L0.7,2Z", "filled": true, "size": 144, "angle": 48, "color": "black", "opacity": 1},
       "encoding": {"x": {"datum": 18.8, "axis": null}, "y": {"datum": -142, "axis": null}}}
     ]},
    {"width": 82, "height": 1, "view": {"stroke": null}, "data": {"values": []}, "mark": "point"},
    {"width": 558, "height": 117, "title": {"text": "FRAP curve", "offset": -1}, "view": {"stroke": "black"}, "data": {"name": "frap"},
     "resolve": {"axis": {"x": "independent", "y": "independent"}},
     "layer": [
      {"mark": {"type": "line", "color": "#ff00ff", "strokeWidth": 1.6},
       "encoding": {
        "x": {"field": "t", "type": "quantitative", "scale": {"domain": [0, 1], "nice": false, "zero": false}, "axis": {"values": [0, 0.1, 0.2, 0.3, 0.4, 0.5, 0.6, 0.7, 0.8, 0.9, 1], "title": "time (secs)"}},
        "y": {"field": "n", "type": "quantitative", "scale": {"domain": [0, 1.1], "nice": false}, "axis": {"values": [0, 0.5, 1], "title": "normalized intensity"}}}},
      {"mark": {"type": "point", "opacity": 0},
       "encoding": {
        "x": {"field": "t", "type": "quantitative", "axis": {"orient": "top", "labels": false, "title": null, "values": [0, 0.1, 0.2, 0.3, 0.4, 0.5, 0.6, 0.7, 0.8, 0.9, 1]}},
        "y": {"field": "n", "type": "quantitative", "axis": {"orient": "right", "labels": false, "title": null, "values": [0, 0.5, 1]}}}}
     ]}
  ]}
]
}
